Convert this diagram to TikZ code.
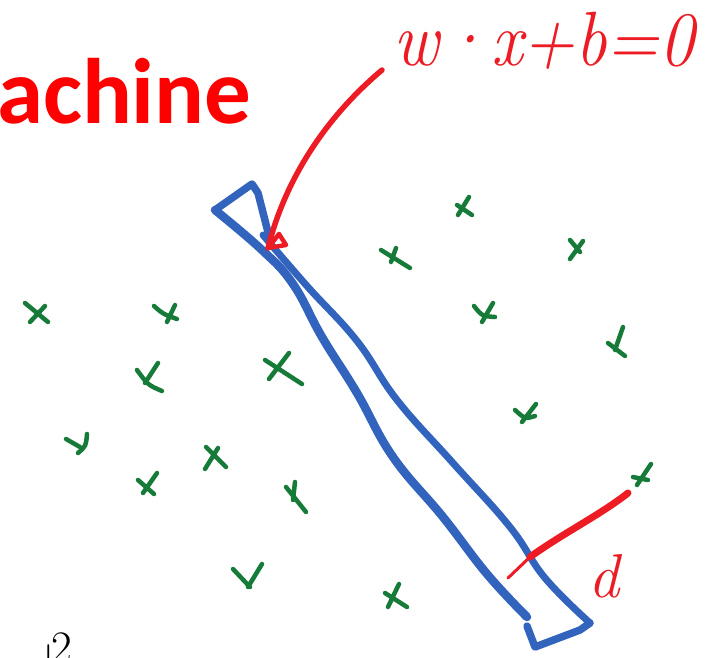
\documentclass[tikz,border=0pt]{standalone}
\usepackage{fontspec}
\newfontfamily\carlito{Carlito}
\definecolor{inkred}{RGB}{237,28,36}
\definecolor{titlered}{RGB}{255,0,0}
\definecolor{inkblue}{RGB}{50,100,190}
\definecolor{inkgreen}{RGB}{22,122,56}
\begin{document}
\begin{tikzpicture}[x=1pt,y=-1pt,line cap=round,line join=round,
  band/.style={draw=inkblue,line width=7.5pt},
  gx/.style={draw=inkgreen,line width=4.5pt},
  redpen/.style={draw=inkred,line width=5.5pt}]
\useasboundingbox (0,0) rectangle (720,657);
% title fragment
\node[anchor=base west,inner sep=0,text=titlered,font=\carlito\bfseries\fontsize{93}{100}\selectfont] (title) at (-3,123) {achine};
% formula
\node[anchor=base west,inner sep=0,text=inkred,font=\fontsize{77}{80}\selectfont\itshape] (eq) at (393,65) {\scalebox{0.91}[1]{w\textperiodcentered x+b=0}};
% bottom-left fragment
\node[anchor=north west,inner sep=0,font=\fontsize{45}{45}\selectfont] (two) at (51,633) {2};
\node[anchor=north west,inner sep=0,font=\fontsize{45}{45}\selectfont] (bar) at (42,645) {|};
% blue margin band
\draw[band] (270,240) -- (258,193) -- (252,184) -- (215,210);
\draw[band,line width=8.5pt] plot[smooth,tension=0.7] coordinates {(215,210) (262,250) (293,284) (322,337) (357,393) (393,457) (443,517) (487,574) (527,617)};
\draw[band,line width=7pt] plot[smooth,tension=0.7] coordinates {(263,235) (307,286) (357,341) (397,400) (453,463) (510,527) (545,578) (590,623)};
\draw[band] (527,626) -- (535,647) -- (580,630) -- (590,623);
% red arrow to the hyperplane
\coordinate (arrowtail) at (382,70);
\coordinate (arrowtip) at (268,248);
\draw[redpen] (arrowtail) .. controls (325,118) and (285,180) .. (arrowtip);
\draw[redpen,line width=4.5pt] (279,234) -- (arrowtip) -- (286,245) -- (279,234);
% red margin line and d
\coordinate (dA) at (508,578);
\coordinate (dB) at (530,557);
\coordinate (dC) at (628,493);
\draw[redpen,line width=3pt] (dA) -- (dB);
\draw[redpen,line width=7pt] (dB) .. controls (565,532) and (600,515) .. (dC);
\node[anchor=base west,inner sep=0,text=inkred,font=\fontsize{62}{62}\selectfont\itshape] (dlabel) at (588,597) {d};
% green crosses
\draw[gx] (25,303) -- (48,322) (30,322) -- (45,306);
\draw[gx] (154,306) .. controls (163,314) .. (177,319) (175,305) -- (167,322);
\draw[gx] (137,370) .. controls (148,385) .. (162,391) (158,363) -- (145,383);
\draw[gx] (265,360) -- (302,384) (289,353) -- (269,379);
\draw[gx] (66,439) -- (80,447) (87,434) .. controls (86,446) .. (78,453);
\draw[gx] (206,447) -- (226,467) (218,448) -- (205,469);
\draw[gx] (138,480) -- (154,494) (157,473) -- (143,493);
\draw[gx] (286,487) -- (306,512) (295,482) -- (293,500);
\draw[gx] (457,205) -- (472,215) (469,197) -- (458,215);
\draw[gx] (381,250) -- (410,268) (396,248) -- (391,262);
\draw[gx] (570,240) -- (580,252) (583,241) -- (570,259);
\draw[gx] (474,306) .. controls (482,316) .. (495,317) (493,303) -- (482,322);
\draw[gx] (608,343) -- (625,356) (623,327) -- (615,350);
\draw[gx] (515,410) .. controls (525,419) .. (535,416) (536,404) -- (522,422);
\draw[gx] (633,477) -- (648,480) (651,464) -- (637,485);
\draw[gx] (385,593) -- (407,607) (399,584) -- (388,607);
\draw[gx] (233,569) -- (250,587) (262,564) -- (248,587);
\end{tikzpicture}
\end{document}
